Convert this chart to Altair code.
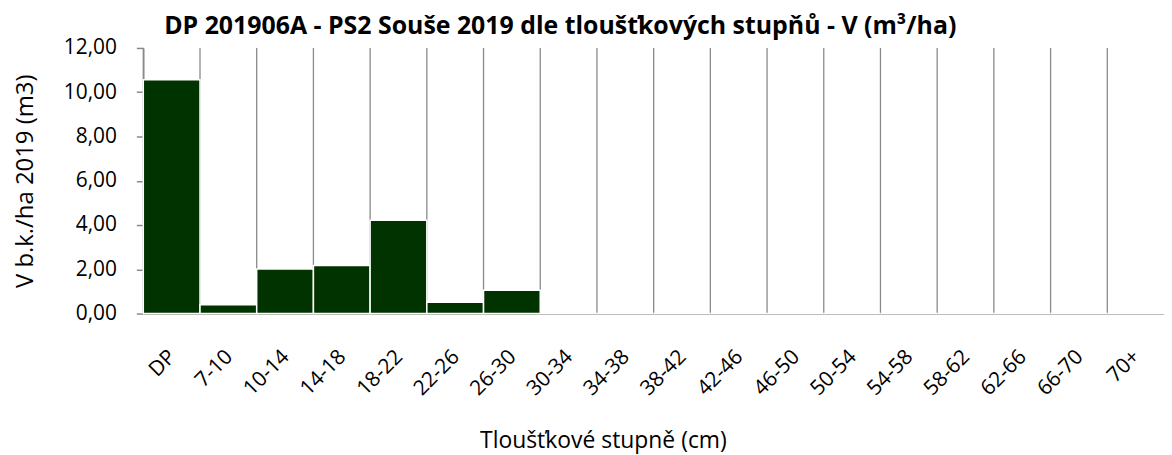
import altair as alt
import pandas as pd

categories = ["DP", "7-10", "10-14", "14-18", "18-22", "22-26", "26-30", "30-34",
              "34-38", "38-42", "42-46", "46-50", "50-54", "54-58", "58-62",
              "62-66", "66-70", "70+"]
values = [10.56, 0.40, 2.01, 2.17, 4.22, 0.51, 1.05, 0.0,
          0.0, 0.0, 0.0, 0.0, 0.0, 0.0, 0.0,
          0.0, 0.0, 0.0]

df = pd.DataFrame({"cat": categories, "v": values})

FONT = "Open Sans"
W, H = 1026, 267

xscale = alt.Scale(domain=categories, paddingInner=0, paddingOuter=0)

xaxis = alt.Axis(title="Tloušťkové stupně (cm)", labelAngle=-45,
                 labelFontSize=21, labelFont=FONT, labelColor="#000",
                 labelPadding=40, labelOffset=1, labelAlign="right", labelBaseline="middle",
                 ticks=False, grid=False,
                 domainColor="#8a8a8a", domainWidth=1.5,
                 titleFont=FONT, titleFontSize=23, titleFontWeight="normal",
                 titleColor="#000", titleX=462, titleY=128,
                 titleAlign="center", titleBaseline="middle")

grid = alt.Chart(df).mark_rule(color="#8a8a8a", strokeWidth=1.3).encode(
    x=alt.X("cat:N", scale=xscale, bandPosition=0, axis=xaxis, sort=categories),
    y=alt.value(0),
    y2=alt.value(H),
)

bars = alt.Chart(df).mark_bar(color="#003300", stroke="white", strokeWidth=1.5).encode(
    x=alt.X("cat:N", scale=xscale, sort=categories, axis=xaxis),
    y=alt.Y("v:Q", scale=alt.Scale(domain=[0, 12], nice=False),
            axis=alt.Axis(title="V b.k./ha 2019 (m3)", values=[0, 2, 4, 6, 8, 10, 12],
                          labelExpr="replace(format(datum.value, '.2f'), '.', ',')",
                          labelFontSize=21, labelFont=FONT, labelColor="#000",
                          labelPadding=20, tickSize=7, tickColor="#8a8a8a",
                          tickWidth=1.5, domainColor="#8a8a8a", domainWidth=1.5,
                          grid=False,
                          titleFont=FONT, titleFontSize=24, titleFontWeight="normal",
                          titleColor="#000", titleX=-118, titleY=H / 2,
                          titleAlign="center", titleBaseline="middle")),
)

chart = alt.layer(grid, bars).properties(
    width=W, height=H,
    title=alt.TitleParams("DP 201906A - PS2 Souše 2019 dle tloušťkových stupňů - V (m³/ha)",
                          font=FONT, fontSize=25, fontWeight="bold", color="#000",
                          anchor="start", dx=21, dy=5, offset=3, frame="group"),
    autosize=alt.AutoSizeParams(type="none"),
    padding={"left": 136, "top": 39, "right": 0, "bottom": 140},
).configure_view(stroke=None)

chart.save("out.html", embed_options={"renderer": "svg", "actions": False})
